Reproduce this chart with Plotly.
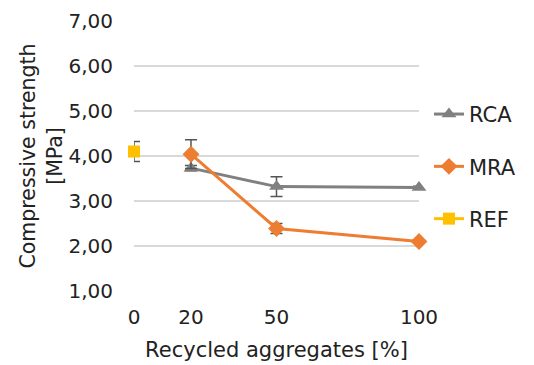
import plotly.graph_objects as go

# Replacement level of recycled aggregates [%]
ref_x = [0]
rca_x = [20, 50, 100]
mra_x = [20, 50, 100]

# Compressive strength [MPa] and standard deviations
ref_y = [4.10]
ref_err = [0.22]
rca_y = [3.73, 3.32, 3.30]
rca_err = [0.06, 0.22, 0.03]
mra_y = [4.04, 2.39, 2.10]
mra_err = [0.32, 0.11, 0.04]

x_ticks = [0, 20, 50, 100]
y_ticks = [1, 2, 3, 4, 5, 6, 7]

FONT = "DejaVu Sans"
TXT = "#222222"
ERR = "#555555"

fig = go.Figure()

fig.add_trace(go.Scatter(
    x=rca_x, y=rca_y, name="RCA", legendgroup="a",
    mode="lines+markers",
    line=dict(color="#808080", width=3),
    marker=dict(symbol="triangle-up", size=13, color="#808080"),
    error_y=dict(type="data", array=rca_err, color=ERR, thickness=1.5, width=6),
    cliponaxis=False,
))
fig.add_trace(go.Scatter(
    x=mra_x, y=mra_y, name="MRA", legendgroup="b",
    mode="lines+markers",
    line=dict(color="#ED7D31", width=3),
    marker=dict(symbol="diamond", size=13, color="#ED7D31"),
    error_y=dict(type="data", array=mra_err, color=ERR, thickness=1.5, width=6),
    cliponaxis=False,
))
fig.add_trace(go.Scatter(
    x=ref_x, y=ref_y, name="REF", legendgroup="c",
    mode="lines+markers",
    line=dict(color="#FFC000", width=3),
    marker=dict(symbol="square", size=12, color="#FFC000"),
    error_y=dict(type="data", array=ref_err, color=ERR, thickness=1.5, width=6),
    cliponaxis=False,
))

fig.update_layout(
    width=534, height=365,
    margin=dict(l=134, r=115, t=21, b=74),
    paper_bgcolor="white", plot_bgcolor="white",
    separators=", ",
    font=dict(family=FONT, size=20, color=TXT),
    showlegend=True,
    legend=dict(
        x=1.035, xanchor="left", y=0.73, yanchor="top",
        font=dict(size=21, color=TXT),
        tracegroupgap=22, traceorder="grouped",
        bgcolor="rgba(0,0,0,0)",
    ),
    xaxis=dict(
        range=[0, 100], tickvals=x_ticks, ticktext=[str(v) for v in x_ticks],
        showgrid=False, zeroline=False, showline=False, ticks="",
        tickfont=dict(size=20), ticklabelstandoff=12, automargin=False,
        title=dict(text="Recycled aggregates [%]", font=dict(size=21), standoff=14),
    ),
    yaxis=dict(
        range=[1, 7], tickvals=y_ticks, tickformat=".2f",
        showgrid=True, gridcolor="#D9D9D9", gridwidth=1.5,
        zeroline=False, showline=False, ticks="",
        tickfont=dict(size=20), ticklabelstandoff=20, automargin=False,
        title=dict(text="Compressive strength<br>[MPa]", font=dict(size=20.5), standoff=0),
    ),
)

fig.write_html("out.html")
